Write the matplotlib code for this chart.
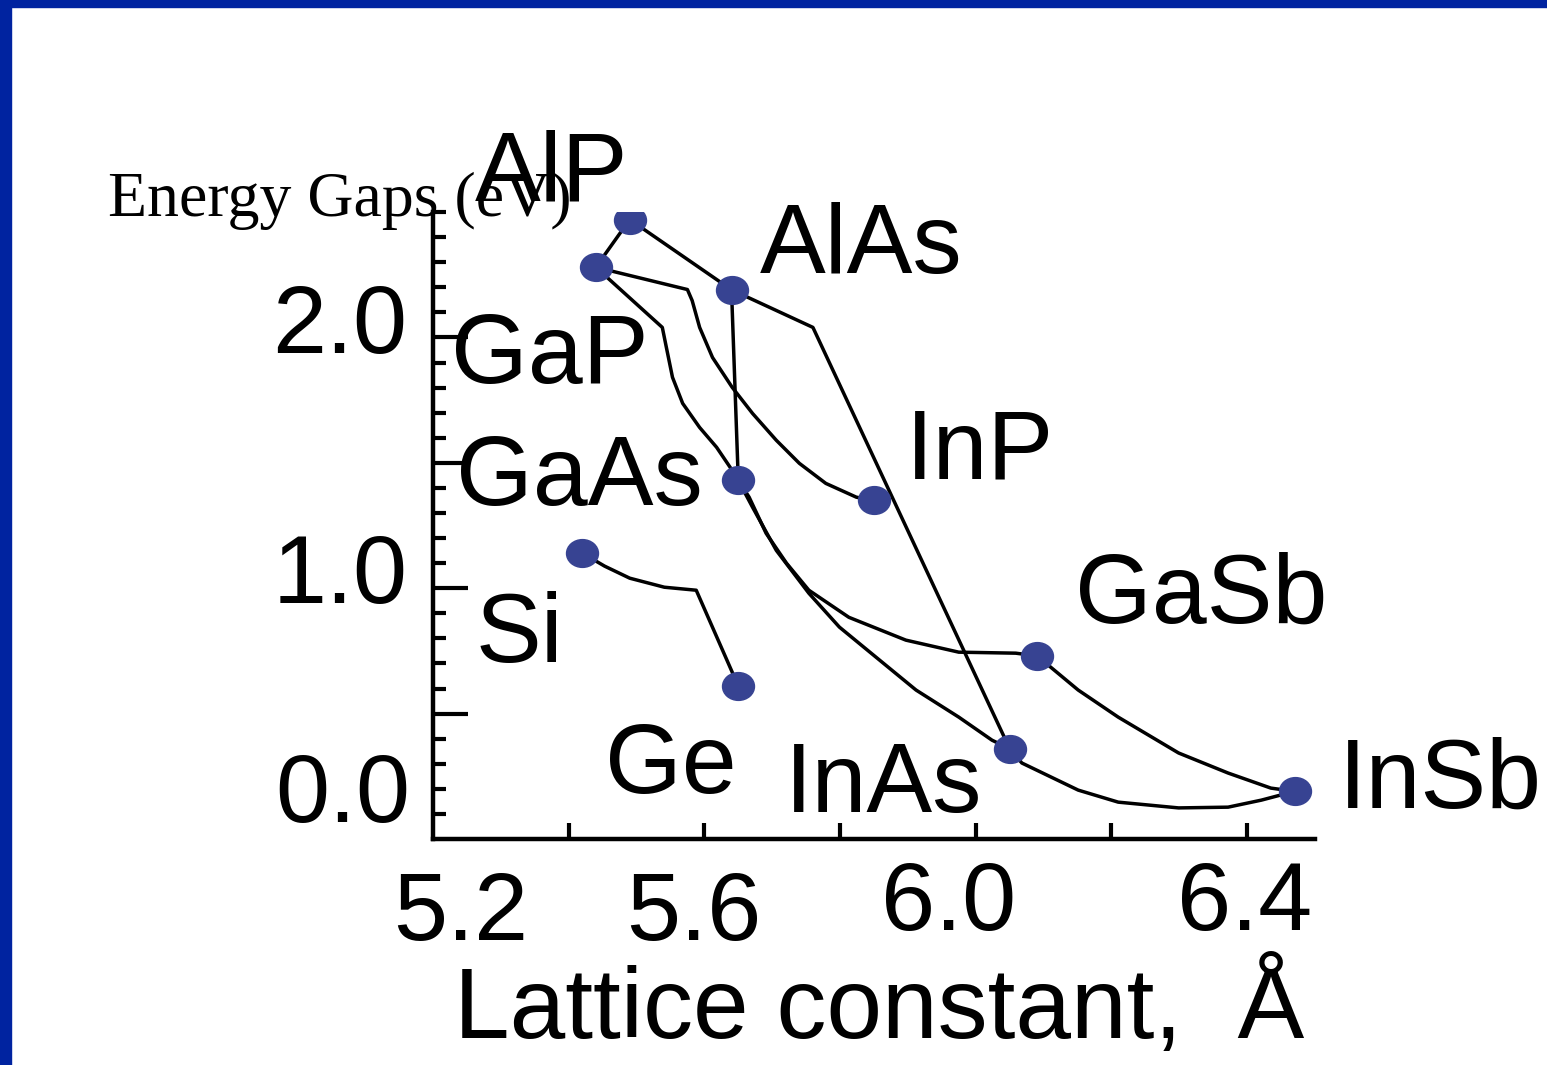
import matplotlib
matplotlib.use("Agg")
import matplotlib.pyplot as plt
from matplotlib.path import Path
from matplotlib.patches import Rectangle
from matplotlib.ticker import FixedLocator

# compound: (lattice constant in Angstrom, energy gap in eV)
names = ["AlP", "GaP", "AlAs", "GaAs", "InP", "Si", "Ge", "GaSb", "InAs", "InSb"]
lattice = [5.49, 5.44, 5.64, 5.65, 5.85, 5.42, 5.65, 6.09, 6.05, 6.47]
gap = [2.47, 2.28, 2.19, 1.43, 1.35, 1.14, 0.61, 0.73, 0.36, 0.19]
pts = dict(zip(names, zip(lattice, gap)))

# alloy curves between compounds: (start, end, intermediate x, intermediate y)
alloys = [
    ("AlP", "GaP", [], []),
    ("AlP", "AlAs", [], []),
    ("AlAs", "GaAs", [], []),
    ("AlAs", "InAs", [5.76], [2.04]),
    ("GaP", "InP",
     [5.575, 5.582, 5.593, 5.612, 5.641, 5.671, 5.706, 5.740, 5.779, 5.824],
     [2.191, 2.147, 2.040, 1.920, 1.801, 1.697, 1.590, 1.498, 1.418, 1.363]),
    ("GaP", "GaAs",
     [5.538, 5.544, 5.553, 5.568, 5.593, 5.618, 5.641],
     [2.040, 1.960, 1.841, 1.737, 1.641, 1.562, 1.470]),
    ("GaAs", "GaSb",
     [5.666, 5.691, 5.721, 5.754, 5.813, 5.897, 5.975, 6.059],
     [1.363, 1.219, 1.100, 0.992, 0.884, 0.793, 0.745, 0.741]),
    ("GaAs", "InAs",
     [5.671, 5.706, 5.754, 5.799, 5.853, 5.912, 5.975, 6.024],
     [1.323, 1.151, 0.980, 0.845, 0.725, 0.594, 0.486, 0.394]),
    ("GaSb", "InSb",
     [6.107, 6.151, 6.210, 6.299, 6.372, 6.435],
     [0.693, 0.594, 0.486, 0.343, 0.263, 0.203]),
    ("InAs", "InSb",
     [6.068, 6.151, 6.210, 6.299, 6.372, 6.421],
     [0.303, 0.195, 0.147, 0.124, 0.127, 0.155]),
    ("Si", "Ge",
     [5.453, 5.490, 5.541, 5.588],
     [1.088, 1.040, 1.004, 0.992]),
]

xtick_labels = ["5.2", "5.6", "6.0", "6.4"]
ytick_labels = ["0.0", "1.0", "2.0"]

SANS = ["Liberation Sans", "DejaVu Sans"]
SERIF = ["Liberation Serif", "DejaVu Serif"]
DOT = "#374392"

fig = plt.figure(figsize=(15.47, 10.65), dpi=100)
ax = fig.add_axes([0.2799, 0.2122, 0.5701, 0.5887])

# slide frame
fig.patches.append(Rectangle((0, 0), 0.0071, 1, transform=fig.transFigure,
                             color="#0023A0", zorder=0))
fig.patches.append(Rectangle((0, 0.9934), 1, 0.0066, transform=fig.transFigure,
                             color="#0023A0", zorder=0))

for a, b, mx, my in alloys:
    xs = [pts[a][0]] + mx + [pts[b][0]]
    ys = [pts[a][1]] + my + [pts[b][1]]
    ax.plot(xs, ys, color="black", lw=2.5, solid_capstyle="round",
            solid_joinstyle="round", zorder=2)

# slightly flattened dot marker
circ = Path.unit_circle()
oval = Path(circ.vertices * [1.0, 0.87], circ.codes)
ax.plot(lattice, gap, linestyle="none", marker=oval, markersize=23,
        markerfacecolor=DOT, markeredgecolor=DOT, zorder=3)

ax.set_xlim(5.2, 6.5)
ax.set_ylim(0, 2.5)
for side in ["top", "right"]:
    ax.spines[side].set_visible(False)
for side in ["left", "bottom"]:
    ax.spines[side].set_linewidth(3.2)

ax.xaxis.set_major_locator(FixedLocator([5.4, 5.6, 5.8, 6.0, 6.2, 6.4]))
ax.yaxis.set_major_locator(FixedLocator([0.5, 1.0, 1.5, 2.0]))
ax.yaxis.set_minor_locator(FixedLocator(
    [v / 10 for v in range(1, 26) if v % 5 != 0] + [2.5]))
ax.tick_params(axis="x", which="major", direction="in", length=11.5, width=3.0,
               labelbottom=False)
ax.tick_params(axis="y", which="major", direction="in", length=25, width=3.0,
               labelleft=False)
ax.tick_params(axis="y", which="minor", direction="in", length=9, width=3.0)

# hand placed tick labels
for lab, xc, yb in zip(xtick_labels, [5.241, 5.585, 5.960, 6.397],
                       [-0.402, -0.402, -0.363, -0.363]):
    ax.text(xc, yb, lab, ha="center", va="baseline", fontsize=70, family=SANS)
for lab, xr, yb in zip(ytick_labels, [5.166, 5.162, 5.162], [0.068, 0.940, 1.936]):
    ax.text(xr, yb, lab, ha="right", va="baseline", fontsize=70, family=SANS)

ax.text(5.857, -0.793, "Lattice constant,  Å", ha="center", va="baseline",
        fontsize=72, family=SANS)
ax.text(4.721, 2.486, "Energy Gaps (eV)", ha="left", va="baseline",
        fontsize=46, family=SERIF)

# compound labels
label_pos = {
    "AlP": (5.262, 2.546), "AlAs": (5.682, 2.255), "GaP": (5.226, 1.817),
    "GaAs": (5.234, 1.331), "InP": (5.897, 1.438), "GaSb": (6.146, 0.861),
    "InSb": (6.535, 0.127), "Si": (5.262, 0.705), "Ge": (5.453, 0.183),
    "InAs": (5.719, 0.108),
}
for n in names:
    x, y = label_pos[n]
    ax.text(x, y, n, ha="left", va="baseline", fontsize=71, family=SANS,
            zorder=4)

fig.savefig("out.png", dpi=100)
